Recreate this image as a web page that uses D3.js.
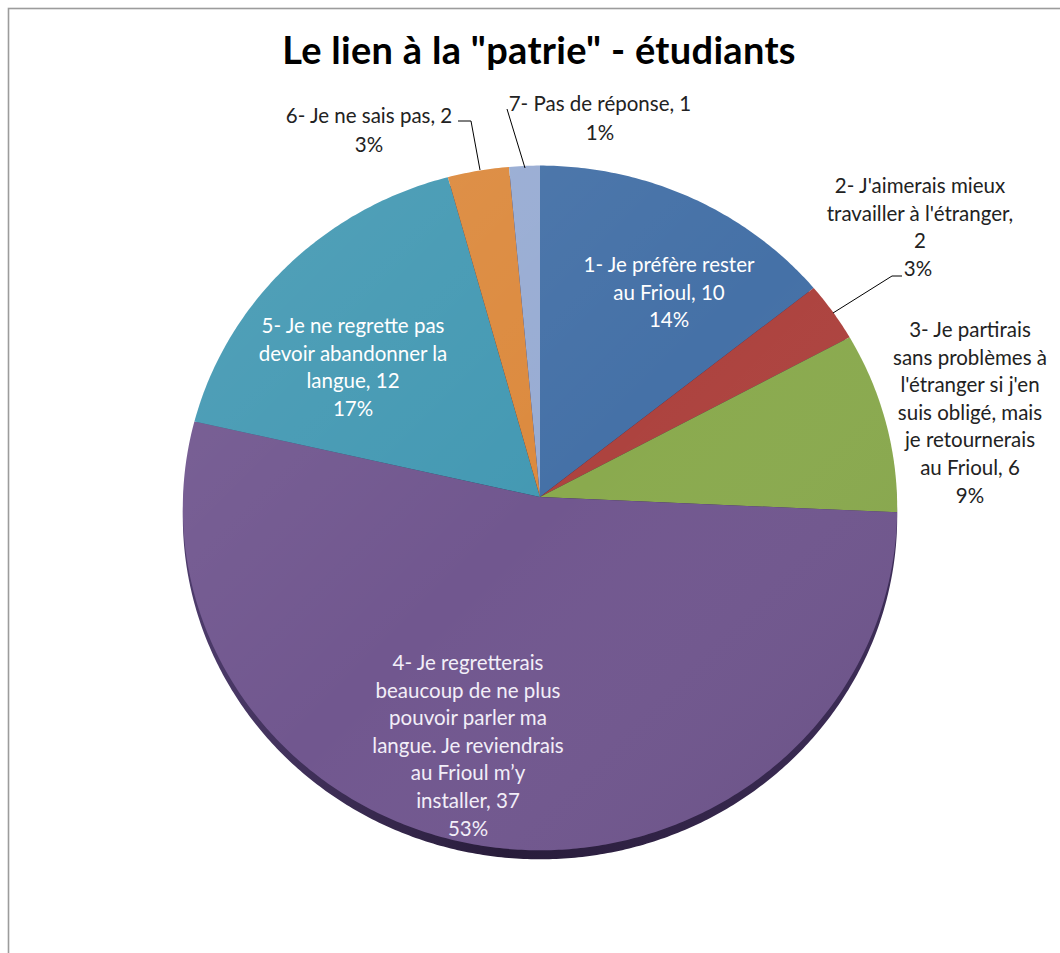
<!DOCTYPE html>
<html>
<head>
<meta charset="utf-8">
<script src="https://cdn.jsdelivr.net/npm/d3@7"></script>
<style>
  html, body { margin: 0; padding: 0; background: #fff; }
  svg { display: block; font-family: Lato, "Open Sans", sans-serif; }
</style>
</head>
<body>
<svg id="chart" width="1060" height="953"></svg>
<script>
// data
var title = 'Le lien à la "patrie" - étudiants';
var categories = [
  "1- Je préfère rester au Frioul",
  "2- J'aimerais mieux travailler à l'étranger",
  "3- Je partirais sans problèmes à l'étranger si j'en suis obligé, mais je retournerais au Frioul",
  "4- Je regretterais beaucoup de ne plus pouvoir parler ma langue. Je reviendrais au Frioul m’y installer",
  "5- Je ne regrette pas devoir abandonner la langue",
  "6- Je ne sais pas",
  "7- Pas de réponse"
];
var values = [10, 2, 6, 37, 12, 2, 1];
// label text as wrapped in the chart (value + percent appended below)
var labelLines = [
  ["1- Je préfère rester", "au Frioul, {v}"],
  ["2- J'aimerais mieux", "travailler à l'étranger,", "{v}"],
  ["3- Je partirais", "sans problèmes à", "l'étranger si j'en", "suis obligé, mais", "je retournerais", "au Frioul, {v}"],
  ["4- Je regretterais", "beaucoup de ne plus", "pouvoir parler ma", "langue. Je reviendrais", "au Frioul m’y", "installer, {v}"],
  ["5- Je ne regrette pas", "devoir abandonner  la", "langue, {v}"],
  ["6- Je ne sais pas, {v}"],
  ["7- Pas de réponse, {v}"]
];
var colors = ["#4571a7", "#ad433f", "#8aaa4e", "#71578f", "#4499b3", "#dc8a3e", "#98acd3"];

// layout (label block centre x, first line y, text colour) and leader lines
var labelLayout = [
  {x: 669, y: 265, fill: "#fff"},
  {x: 920, y: 186, fill: "#222"},
  {x: 970, y: 330, fill: "#222"},
  {x: 468, y: 663, fill: "#f2eef8"},
  {x: 353, y: 326, fill: "#fff"},
  {x: 369, y: 116, fill: "#222"},
  {x: 600, y: 104, fill: "#222"}
];
var leaders = [
  null,
  [[902, 276], [892, 276], [833, 313]],
  null, null, null,
  [[458, 121], [471, 121], [480, 170]],
  [[507, 109], [525, 168]]
];

var width = 1060, height = 953;
var cx = 540, cy = 497, R = 357, Ry = 342, persp = 0.032, depth = 9;
var lineH = 27.6;

var svg = d3.select("#chart");

svg.append("rect")
  .attr("x", 8.5).attr("y", 8.5)
  .attr("width", 1100).attr("height", 1000)
  .attr("fill", "#fff")
  .attr("stroke", "#9c9c9c")
  .attr("stroke-width", 1.6);

svg.append("text")
  .attr("x", 539).attr("y", 64)
  .attr("text-anchor", "middle")
  .style("font-weight", "bold")
  .style("font-size", "38px")
  .style("letter-spacing", "0.3px")
  .style("fill", "#000")
  .text(title);

// slightly tilted disc: angle clockwise from top -> screen point
function proj(a, r, dy) {
  var x = Math.sin(a), y = -Math.cos(a);
  var f = 1 / (1 - persp * y);
  return [cx + R * r * x * f, cy + Ry * r * y * f + (dy || 0)];
}

function slicePath(d, dy) {
  var pts = [proj(0, 0, dy)];
  var n = Math.max(2, Math.ceil((d.endAngle - d.startAngle) / 0.01));
  for (var i = 0; i <= n; i++) {
    pts.push(proj(d.startAngle + (d.endAngle - d.startAngle) * i / n, 1, dy));
  }
  return d3.line()(pts) + "Z";
}

var pie = d3.pie().sort(null).value(function(d) { return d; });
var arcs = pie(values);
var total = d3.sum(values);
var pct = d3.format(".0%");

var defs = svg.append("defs");
var shade = defs.append("linearGradient")
  .attr("id", "shade")
  .attr("gradientUnits", "userSpaceOnUse")
  .attr("x1", 200).attr("y1", 170).attr("x2", 880).attr("y2", 850);
shade.append("stop").attr("offset", 0).attr("stop-color", "#fff").attr("stop-opacity", 0.08);
shade.append("stop").attr("offset", 0.5).attr("stop-color", "#fff").attr("stop-opacity", 0);
shade.append("stop").attr("offset", 1).attr("stop-color", "#000").attr("stop-opacity", 0.08);

var rim = defs.append("linearGradient")
  .attr("id", "rim")
  .attr("x1", 0).attr("y1", 0).attr("x2", 1).attr("y2", 0);
rim.append("stop").attr("offset", 0).attr("stop-color", "#4e3c6c");
rim.append("stop").attr("offset", 0.45).attr("stop-color", "#281c3a");
rim.append("stop").attr("offset", 1).attr("stop-color", "#3e2e58");

// side of the disc
svg.append("path")
  .attr("d", slicePath({startAngle: 0, endAngle: 2 * Math.PI}, depth))
  .attr("fill", "url(#rim)");

svg.append("g")
  .selectAll("path")
  .data(arcs)
  .enter()
  .append("path")
  .attr("d", function(d) { return slicePath(d, 0); })
  .attr("fill", function(d, i) { return colors[i]; });

svg.append("path")
  .attr("d", slicePath({startAngle: 0, endAngle: 2 * Math.PI}, 0))
  .attr("fill", "url(#shade)");

// leader lines
svg.append("g")
  .selectAll("path")
  .data(leaders.filter(function(l) { return l; }))
  .enter()
  .append("path")
  .attr("d", d3.line())
  .attr("fill", "none")
  .attr("stroke", "#000")
  .attr("stroke-width", 1);

// labels
var label = svg.append("g")
  .selectAll("text")
  .data(arcs)
  .enter()
  .append("text")
  .attr("text-anchor", "middle")
  .style("font-size", "20.5px")
  .style("fill", function(d, i) { return labelLayout[i].fill; });

label.each(function(d, i) {
  var t = d3.select(this);
  var lines = labelLines[i].map(function(s) { return s.replace("{v}", values[i]); });
  lines.push(pct(values[i] / total));
  var lay = labelLayout[i];
  lines.forEach(function(s, k) {
    var isPct = k === lines.length - 1;
    t.append("tspan")
      .attr("x", isPct && i === 1 ? 918 : lay.x)
      .attr("y", lay.y + k * (i >= 5 ? lineH + 1.5 : lineH) + 7)
      .text(s);
  });
});
</script>
</body>
</html>
